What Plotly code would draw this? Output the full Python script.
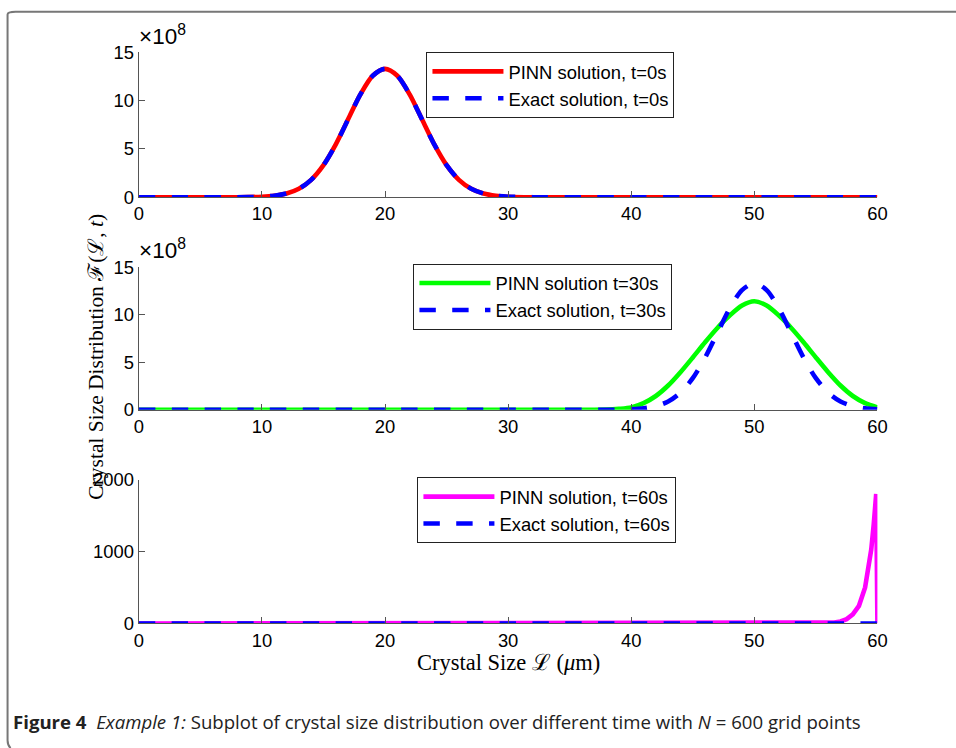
import plotly.graph_objects as go

# ---------------- data ----------------
# Panel 1 (t = 0 s), values in units of 1e8
x_t0 = [0, 4, 8, 10, 11, 12, 13, 14, 15, 16, 17, 18, 19, 20, 21, 22, 23, 24, 25,
        26, 27, 28, 29, 30, 32, 36, 40, 44, 48, 52, 56, 60]
pinn_t0 = [0, 0, 0, 0.05, 0.15, 0.38, 0.87, 1.80, 3.32, 5.47, 8.07, 10.65, 12.58, 13.3,
           12.58, 10.65, 8.07, 5.47, 3.32, 1.80, 0.87, 0.38, 0.15, 0.05, 0, 0, 0, 0, 0, 0, 0, 0]
exact_t0 = [0, 0, 0, 0.05, 0.15, 0.38, 0.87, 1.80, 3.32, 5.47, 8.07, 10.65, 12.58, 13.3,
            12.58, 10.65, 8.07, 5.47, 3.32, 1.80, 0.87, 0.38, 0.15, 0.05, 0, 0, 0, 0, 0, 0, 0, 0]

# Panel 2 (t = 30 s), values in units of 1e8
x_t30 = [0, 10, 20, 30, 34, 36, 38, 39, 40, 41, 42, 43, 44, 45, 46, 47, 48, 49, 50,
         51, 52, 53, 54, 55, 56, 57, 58, 59, 60]
pinn_t30 = [0, 0, 0, 0, 0, 0, 0.02, 0.1, 0.25, 0.7, 1.45, 2.55, 3.95, 5.5, 7.1, 8.6, 9.9,
            10.95, 11.4, 10.95, 9.9, 8.6, 7.1, 5.5, 3.95, 2.55, 1.45, 0.7, 0.25]
exact_t30 = [0, 0, 0, 0, 0, 0, 0, 0, 0.05, 0.15, 0.38, 0.87, 1.80, 3.32, 5.47, 8.07, 10.65,
             12.58, 13.3, 12.58, 10.65, 8.07, 5.47, 3.32, 1.80, 0.87, 0.38, 0.15, 0.05]

# Panel 3 (t = 60 s)
x_t60_pinn = [0, 10, 20, 30, 40, 50, 54, 55, 56, 56.5, 57, 57.5, 58, 58.5, 59,
              59.3, 59.5, 59.7, 59.9, 60]
pinn_t60 = [0, 0, 0, 0, 0, 0, 0, 1, 5, 12, 28, 60, 125, 245, 500, 780, 1030, 1380, 1800, 0]
x_t60_exact = [0, 10, 20, 30, 40, 50, 60]
exact_t60 = [0, 0, 0, 0, 0, 0, 0]

x_ticks = [0, 10, 20, 30, 40, 50, 60]
y_ticks_12 = [0, 5, 10, 15]
y_ticks_3 = [0, 1000, 2000]

legend_names = [
    ("PINN solution, t=0s", "Exact solution, t=0s"),
    ("PINN solution t=30s", "Exact solution, t=30s"),
    ("PINN solution, t=60s", "Exact solution, t=60s"),
]

# ---------------- layout helpers ----------------
# page-to-figure mapping calibrated on the rendered page
SX, OX = 0.9824, 5.45
SY, OY = 0.974, 10.5
W, H = 968, 758
S = 1 / 0.978  # size compensation

def px(v):
    return ((v - OX) / SX) / W
def py(v):
    return 1 - ((v - OY) / SY) / H

X0, X1 = 139, 876
panels = [(52, 197), (267, 410), (480, 624)]

fig = go.Figure()

DASH = "%.1fpx,%.1fpx" % (16 * S, 16 * S)
LW = 4.5 * S

series = [
    (x_t0, pinn_t0, x_t0, exact_t0, "#ff0000", True),
    (x_t30, pinn_t30, x_t30, exact_t30, "#00ff00", True),
    (x_t60_pinn, pinn_t60, x_t60_exact, exact_t60, "#ff00ff", False),
]

for i, (xp, yp, xe, ye, col, smooth) in enumerate(series):
    ax = "" if i == 0 else str(i + 1)
    leg = "legend" if i == 0 else "legend%d" % (i + 1)
    shape = "spline" if smooth else "linear"
    fig.add_trace(go.Scatter(
        x=xp, y=yp, mode="lines", name=legend_names[i][0],
        line=dict(color=col, width=LW, shape=shape, smoothing=0.8),
        xaxis="x" + ax, yaxis="y" + ax, legend=leg))
    fig.add_trace(go.Scatter(
        x=xe, y=ye, mode="lines", name=legend_names[i][1],
        line=dict(color="#0000ff", width=LW, dash=DASH, shape=shape, smoothing=0.8),
        xaxis="x" + ax, yaxis="y" + ax, legend=leg))

sans = "Arial, Liberation Sans, sans-serif"
tickfont = dict(family=sans, size=18 * S, color="#000")
axis_common = dict(showline=True, linecolor="#555", linewidth=1.3, ticks="inside",
                   ticklen=6, tickcolor="#555", tickwidth=1.3, showgrid=False,
                   zeroline=False, tickfont=tickfont, mirror=False)

layout = dict(width=W, height=H, margin=dict(l=0, r=0, t=0, b=0),
              paper_bgcolor="white", plot_bgcolor="white", showlegend=True)

legend_pos = [(426, 51.5), (413, 263.5), (417, 477.5)]
for i, (top, bot) in enumerate(panels):
    ax = "" if i == 0 else str(i + 1)
    layout["xaxis" + ax] = dict(axis_common, domain=[px(X0), px(X1)], range=[0, 60],
                                tickvals=x_ticks, anchor="y" + ax)
    yt = y_ticks_12 if i < 2 else y_ticks_3
    yr = [0, 15] if i < 2 else [0, 2000]
    layout["yaxis" + ax] = dict(axis_common, domain=[py(bot), py(top)], range=yr,
                                tickvals=yt, anchor="x" + ax)
    leg = "legend" if i == 0 else "legend%d" % (i + 1)
    lx, ly = legend_pos[i]
    layout[leg] = dict(x=px(lx), y=py(ly), xanchor="left", yanchor="top",
                       bgcolor="white", bordercolor="#222", borderwidth=1,
                       font=dict(family=sans, size=18 * S, color="#000"),
                       itemwidth=71, tracegroupgap=0)

fig.update_layout(**layout)

serif = "Liberation Serif, Times New Roman, serif"
annotations = [
    dict(text="×10<sup>8</sup>", x=px(137), y=py(51), xanchor="left", yanchor="bottom",
         font=dict(family=sans, size=22 * S, color="#000")),
    dict(text="×10<sup>8</sup>", x=px(137), y=py(265), xanchor="left", yanchor="bottom",
         font=dict(family=sans, size=22 * S, color="#000")),
    dict(text="Crystal Size ℒ (<i>μ</i>m)", x=px(508), y=py(663), xanchor="center",
         yanchor="middle", font=dict(family=serif, size=22 * S, color="#000")),
    dict(text="Crystal Size Distribution ℱ(ℒ, <i>t</i>)", x=px(96), y=py(357),
         xanchor="center", yanchor="middle", textangle=-90,
         font=dict(family=serif, size=21 * S, color="#000")),
    dict(text="<b>Figure 4</b>  <i>Example 1:</i> Subplot of crystal size distribution over different time with <i>N</i> = 600 grid points",
         x=px(11), y=py(722), xanchor="left", yanchor="middle",
         font=dict(family="Open Sans, Noto Sans, sans-serif", size=18.2 * S, color="#222")),
]
for a in annotations:
    a.update(xref="paper", yref="paper", showarrow=False)
fig.update_layout(annotations=annotations)

# outer frame with rounded corners (left and top edges)
r = 8
fxl, fyt = 8, 6
ytop = min(py(fyt), 0.999)
path = ("M %f,%f L %f,%f Q %f,%f %f,%f L %f,%f Q %f,%f %f,%f" % (
    1.0, ytop, px(fxl + r), ytop, px(fxl), ytop,
    px(fxl), py(fyt + r), px(fxl), py(741), px(fxl), py(746), px(fxl + 3), py(749)))
fig.add_shape(type="path", path=path, xref="paper", yref="paper",
              line=dict(color="#777", width=2))

fig.write_html("out.html")
